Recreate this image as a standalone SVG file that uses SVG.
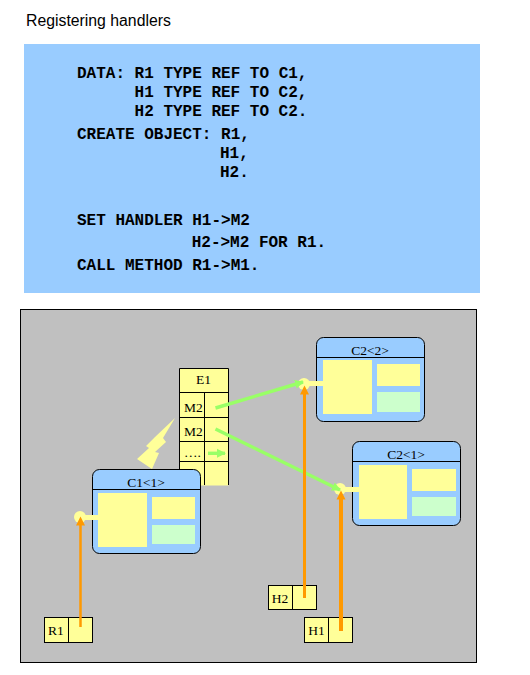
<svg xmlns="http://www.w3.org/2000/svg" width="530" height="675" viewBox="0 0 530 675">
<defs>
<style>
.code{font-family:"Liberation Mono",monospace;font-weight:bold;font-size:16px;fill:#000;white-space:pre}
.lbl{font-family:"Liberation Serif",serif;font-size:13.5px;fill:#000;text-anchor:middle}
.obj{fill:#99ccff;stroke:#000;stroke-width:1}
.y{fill:#ffff99}
.g{fill:#ccffcc}
.cell{fill:#ffff99;stroke:#000;stroke-width:1}
.ln{stroke:#000;stroke-width:1;fill:none}
.or{stroke:#ff9900;fill:none}
.gr{stroke:#99ff66;stroke-width:3.4;fill:none}
</style>
<marker id="ao" markerUnits="userSpaceOnUse" markerWidth="10" markerHeight="10" refX="4.5" refY="0" orient="auto" viewBox="0 -5 10 10"><path d="M9 0L0 -4.5V4.5Z" fill="#ff9900"/></marker>
<marker id="ag" markerUnits="userSpaceOnUse" markerWidth="10" markerHeight="10" refX="8" refY="0" orient="auto" viewBox="0 -5 10 10"><path d="M9 0L0 -4.5V4.5Z" fill="#99ff66"/></marker>
</defs>
<rect width="530" height="675" fill="#fff"/>
<text id="title" x="26" y="26" font-family="Liberation Sans, Arial, sans-serif" font-size="15.8" fill="#000">Registering handlers</text>
<g id="code">
<rect x="24" y="44" width="456" height="249" fill="#99ccff"/>
<text class="code" x="77" y="77.5">DATA: R1 TYPE REF TO C1,</text>
<text class="code" x="134.6" y="96.5">H1 TYPE REF TO C2,</text>
<text class="code" x="134.6" y="115.5">H2 TYPE REF TO C2.</text>
<text class="code" x="77" y="139">CREATE OBJECT: R1,</text>
<text class="code" x="220" y="158">H1,</text>
<text class="code" x="220" y="177">H2.</text>
<text class="code" x="77" y="224.5">SET HANDLER H1-&gt;M2</text>
<text class="code" x="191.7" y="247">H2-&gt;M2 FOR R1.</text>
<text class="code" x="77" y="270">CALL METHOD R1-&gt;M1.</text>
</g>
<rect id="frame" x="20.5" y="309.5" width="456" height="353" fill="#c0c0c0" stroke="#000" stroke-width="1"/>
<g id="E1">
<rect class="y" x="179.5" y="368.5" width="49" height="117"/>
<path class="ln" d="M179.5 485V368.5H228.5V485M204.5 392.5V485M179.5 392.5H228.5M179.5 417.5H228.5M179.5 441.5H228.5M179.5 461.5H228.5"/>
<text class="lbl" x="203.5" y="384">E1</text>
<text class="lbl" x="193.5" y="412">M2</text>
<text class="lbl" x="193.5" y="436">M2</text>
<text class="lbl" x="192.5" y="456.5">….</text>
</g>
<polygon id="flash" class="y" points="175,418 163,438 166,442 155,452 159,453 152,469 137,459 149,448 146,446 155,437"/>
<g id="C1">
<rect class="obj" x="92.5" y="469.5" width="108" height="84" rx="7"/>
<path class="ln" d="M92.5 489.5H200.5"/>
<text class="lbl" x="146" y="486.5">C1&lt;1&gt;</text>
<rect class="y" x="98" y="493" width="49" height="54"/>
<rect class="y" x="152" y="497" width="43" height="22"/>
<rect class="g" x="152" y="525" width="43" height="19"/>
<rect class="y" x="85" y="515" width="14" height="5"/>
<circle class="y" cx="80" cy="517" r="6"/>
</g>
<g id="C2-2">
<rect class="obj" x="316.5" y="337.5" width="108" height="84" rx="7"/>
<path class="ln" d="M316.5 357.5H424.5"/>
<text class="lbl" x="370" y="354.5">C2&lt;2&gt;</text>
<rect class="y" x="323" y="360" width="49" height="54"/>
<rect class="y" x="377" y="364" width="43" height="22"/>
<rect class="g" x="377" y="392" width="43" height="20"/>
<rect class="y" x="309" y="381" width="15" height="5"/>
<circle class="y" cx="304" cy="384" r="6"/>
</g>
<g id="C2-1">
<rect class="obj" x="352.5" y="441.5" width="108" height="84" rx="7"/>
<path class="ln" d="M352.5 461.5H460.5"/>
<text class="lbl" x="406" y="458.5">C2&lt;1&gt;</text>
<rect class="y" x="359" y="465" width="48" height="54"/>
<rect class="y" x="412" y="469" width="44" height="22"/>
<rect class="g" x="412" y="497" width="44" height="19"/>
<rect class="y" x="345" y="487" width="15" height="5"/>
<circle class="y" cx="340" cy="489" r="6"/>
</g>
<g id="R1">
<rect class="cell" x="44.5" y="617.5" width="48" height="25"/>
<path class="ln" d="M68.5 617.5V642.5"/>
<text class="lbl" x="56" y="635">R1</text>
</g>
<g id="H2">
<rect class="cell" x="268.5" y="585.5" width="48" height="24"/>
<path class="ln" d="M292.5 585.5V609.5"/>
<text class="lbl" x="280" y="603">H2</text>
</g>
<g id="H1">
<rect class="cell" x="304.5" y="617.5" width="48" height="25"/>
<path class="ln" d="M328.5 617.5V642.5"/>
<text class="lbl" x="316.5" y="635">H1</text>
</g>
<g id="connectors">
<path class="gr" d="M215.5 408L303 382" marker-end="url(#ag)"/>
<path class="gr" d="M215.5 429L340 490" marker-end="url(#ag)"/>
<path class="gr" d="M208 453.3H225" marker-end="url(#ag)"/>
<path class="or" stroke-width="2.5" d="M80.5 627V521" marker-end="url(#ao)"/>
<path class="or" stroke-width="3" d="M304.5 598V390" marker-end="url(#ao)"/>
<path class="or" stroke-width="4" d="M341 631V495" marker-end="url(#ao)"/>
</g>
</svg>
